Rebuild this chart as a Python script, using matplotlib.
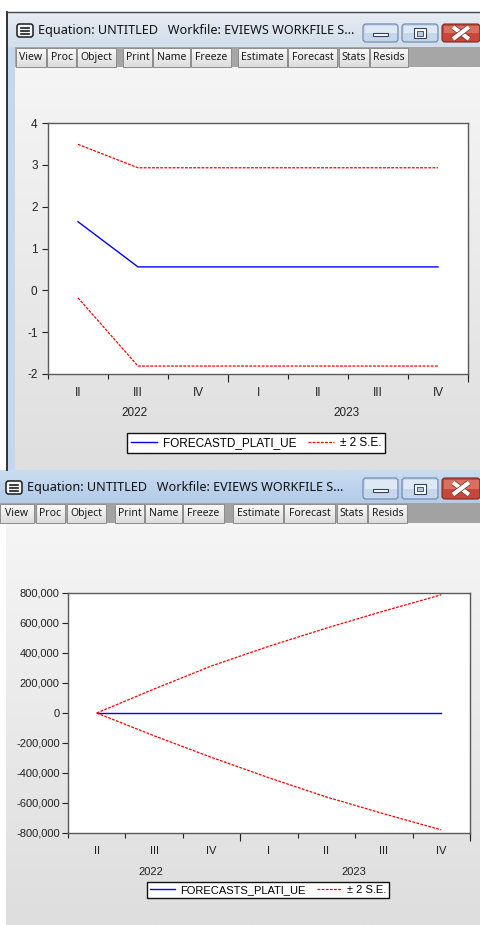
import numpy as np
import matplotlib.pyplot as plt
import matplotlib.colors as mcolors
import matplotlib.patheffects as pe
from matplotlib.patches import Rectangle, FancyBboxPatch
from matplotlib.lines import Line2D
from matplotlib.ticker import FuncFormatter

# ---- data ----
periods = ['II', 'III', 'IV', 'I', 'II', 'III', 'IV']
years = ['2022', '2023']

forecastd = [1.64, 0.56, 0.56, 0.56, 0.56, 0.56, 0.56]
upper_d = [3.49, 2.93, 2.93, 2.93, 2.93, 2.93, 2.93]
lower_d = [-0.18, -1.81, -1.81, -1.81, -1.81, -1.81, -1.81]

forecasts = [0, 0, 0, 0, 0, 0, 0]
upper_s = [0, 160000, 314000, 445000, 566000, 680000, 788000]
lower_s = [0, -152000, -296000, -432000, -560000, -672000, -779000]

yticks_d = [-2, -1, 0, 1, 2, 3, 4]
yticks_s = [-800000, -600000, -400000, -200000, 0, 200000, 400000, 600000, 800000]

title = 'Equation: UNTITLED   Workfile: EVIEWS WORKFILE S...'
buttons = ['View', 'Proc', 'Object', 'Print', 'Name', 'Freeze',
           'Estimate', 'Forecast', 'Stats', 'Resids']

W, H = 480, 925
fig = plt.figure(figsize=(W / 100, H / 100), dpi=100)
fig.patch.set_facecolor('white')

bg = fig.add_axes([0, 0, 1, 1])
bg.axis('off')


def grad(x0, y0, x1, y1, c0, c1, z=1):
    c0 = np.array(mcolors.to_rgb(c0))
    c1 = np.array(mcolors.to_rgb(c1))
    t = np.linspace(0, 1, 64)[:, None, None]
    img = c0 * (1 - t) + c1 * t
    bg.imshow(img, extent=(x0, x1, y1, y0), aspect='auto',
              interpolation='bilinear', zorder=z)


def rect(x0, y0, x1, y1, fc, ec='none', lw=0.8, z=2):
    bg.add_patch(Rectangle((x0, y0), x1 - x0, y1 - y0, facecolor=fc,
                           edgecolor=ec, linewidth=lw, zorder=z))


def win_buttons(y0, y1):
    yc = (y0 + y1) / 2
    for x0, x1, red in [(363, 398, False), (402, 438, False), (442, 480, True)]:
        fc = '#c8463a' if red else '#c6d7ec'
        ec = '#7a2a22' if red else '#6a84a8'
        bg.add_patch(FancyBboxPatch((x0, y0), x1 - x0, y1 - y0,
                                    boxstyle='round,pad=0,rounding_size=3',
                                    facecolor=fc, edgecolor=ec, lw=0.8, zorder=3))
        top = '#d9705f' if red else '#dfe9f6'
        rect(x0 + 1.5, y0 + 1.5, x1 - 1.5, yc, top, z=3.5)
    # minimize glyph
    rect(373, yc, 388, yc + 3, 'white', '#33425a', 0.8, z=4)
    # maximize glyph
    rect(414, yc - 5, 426, yc + 5, 'white', '#33425a', 0.8, z=4)
    rect(417, yc - 2, 423, yc + 2.5, '#b7cbe4', '#33425a', 0.6, z=4.5)
    # close glyph
    for xs, ys in [((453, 469), (yc - 6, yc + 6)), ((453, 469), (yc + 6, yc - 6))]:
        bg.plot(xs, ys, color='white', lw=3.0, solid_capstyle='butt', zorder=5,
                path_effects=[pe.Stroke(linewidth=4.0, foreground='#6b2a22'), pe.Normal()])


def toolbar(y0, y1, spans):
    yc = (y0 + y1) / 2
    for name, (x0, x1) in zip(buttons, spans):
        grad(x0, y0 + 1, x1, y1, '#fbfbfb', '#dcdcdc', z=3)
        rect(x0, y0 + 1, x1, y1, 'none', '#8c8c8c', 0.7, z=4)
        bg.text((x0 + x1) / 2, yc + 0.5, name, ha='center', va='center',
                fontsize=7.5, family='Noto Sans', color='#1a1a1a', zorder=5)


def title_bar(x0, y0, x1, y1, c0, c1, icon_x):
    grad(x0, y0, x1, y1, c0, c1, z=2)
    yc = (y0 + y1) / 2 + 1
    bg.add_patch(FancyBboxPatch((icon_x, yc - 6.5), 16, 13,
                                boxstyle='round,pad=0,rounding_size=2.5',
                                facecolor='#f4f7fb', edgecolor='#1c1c1c', lw=1.1, zorder=4))
    for dy in (-3, 0, 3):
        bg.plot([icon_x + 4, icon_x + 12], [yc + dy, yc + dy], color='#1c1c1c',
                lw=1.2, zorder=5)
    bg.text(icon_x + 21, yc, title, ha='left', va='center', fontsize=9.1,
            family='Noto Sans', color='#111111', zorder=5)


# ---- window 1 chrome ----
grad(15, 67, 480, 470, '#f5f5f5', '#dfdfdf', z=1)
rect(7, 12, 15, 470, '#c4d7ee', z=1.5)
title_bar(7, 12, 480, 47, '#e6ecf3', '#d2deeb', 17)
rect(15, 47, 480, 67, '#a6a6a6', z=2)
win_buttons(24, 42)
toolbar(47, 67, [(16, 46), (47, 76), (77, 116), (123, 152), (153, 190),
                 (191, 231), (238, 287), (288, 337), (339, 369), (370, 408)])
bg.plot([7, 7], [12, 470], color='#222222', lw=1.3, zorder=6)
bg.plot([7, 480], [12, 12], color='#444444', lw=1.0, zorder=6)

# ---- window 2 chrome ----
grad(6, 523, 480, 925, '#f5f5f5', '#dedede', z=1)
title_bar(0, 470, 480, 503, '#c9dcf1', '#b3cbe7', 6)
rect(0, 503, 480, 523, '#a2a2a2', z=2)
win_buttons(478, 499)
toolbar(503, 523, [(0, 34), (36, 65), (67, 106), (115, 144), (145, 182),
                   (183, 224), (233, 283), (284, 335), (337, 367), (368, 407)])

bg.set_xlim(0, W)
bg.set_ylim(H, 0)


# ---- charts ----
def px_axes(l, t, r, b):
    return fig.add_axes([l / W, 1 - b / H, (r - l) / W, (b - t) / H])


def chart(ax, fc, up, lo, yticks, fmt, ypad, fs, fc_label, leg_xy):
    x = np.arange(len(periods))
    ax.set_facecolor('white')
    ax.plot(x, fc, color='#0000ff', lw=1.0)
    ax.plot(x, up, color='#ff0000', lw=0.9, dashes=(2.3, 1.0))
    ax.plot(x, lo, color='#ff0000', lw=0.9, dashes=(2.3, 1.0))
    ax.set_xlim(-0.5, len(periods) - 0.5)
    ax.set_ylim(yticks[0], yticks[-1])
    ax.set_yticks(yticks)
    ax.yaxis.set_major_formatter(FuncFormatter(fmt))
    ax.tick_params(axis='y', length=4.5, width=0.8, pad=ypad, labelsize=fs,
                   colors='#222222')
    ax.set_xticks(x)
    ax.set_xticklabels(periods)
    ax.tick_params(axis='x', which='major', length=0, pad=9.5, labelsize=fs,
                   colors='#222222')
    ax.set_xticks(np.arange(-0.5, len(periods), 1.0), minor=True)
    ax.tick_params(axis='x', which='minor', length=3.5, width=0.8, color='#222222')
    sec = ax.secondary_xaxis('bottom')
    sec.set_xticks([2.5, 6.5])
    sec.tick_params(length=6, width=0.8, labelbottom=False, color='#222222')
    sec.spines['bottom'].set_visible(False)
    for lab in ax.get_xticklabels() + ax.get_yticklabels():
        lab.set_family('Liberation Sans')
    for s in ax.spines.values():
        s.set_color('#5a5a5a')
        s.set_linewidth(1.0)
    for yr, xp in zip(years, [0.95, 4.48]):
        ax.annotate(yr, xy=(xp, 0), xycoords=('data', 'axes fraction'),
                    xytext=(0, -28), textcoords='offset points', ha='center',
                    va='center', fontsize=fs, family='Liberation Sans',
                    color='#222222', annotation_clip=False)
    handles = [Line2D([], [], color='#0000ff', lw=1.0),
               Line2D([], [], color='#ff0000', lw=0.9, dashes=(2.3, 1.0))]
    leg = ax.legend(handles, [fc_label, '\u00b1 2 S.E.'], ncol=2, loc='center',
                    bbox_to_anchor=(leg_xy[0] / W, 1 - leg_xy[1] / H),
                    bbox_transform=fig.transFigure, fancybox=False, shadow=False,
                    frameon=True, edgecolor='#111111', facecolor='white',
                    framealpha=1, prop={'family': 'Liberation Sans', 'size': fs},
                    handlelength=2.2, handletextpad=0.5, columnspacing=1.0,
                    borderpad=0.3, borderaxespad=0)
    leg.get_frame().set_linewidth(1.0)


ax1 = px_axes(48, 123, 468, 374)
chart(ax1, forecastd, upper_d, lower_d, yticks_d, lambda v, p: f'{v:.0f}', 3, 8.5,
      'FORECASTD_PLATI_UE', (256, 443))

ax2 = px_axes(68, 593, 470, 833)
chart(ax2, forecasts, upper_s, lower_s, yticks_s, lambda v, p: f'{v:,.0f}', 1.5, 8,
      'FORECASTS_PLATI_UE', (268, 890))

fig.savefig('out.png', dpi=100)
